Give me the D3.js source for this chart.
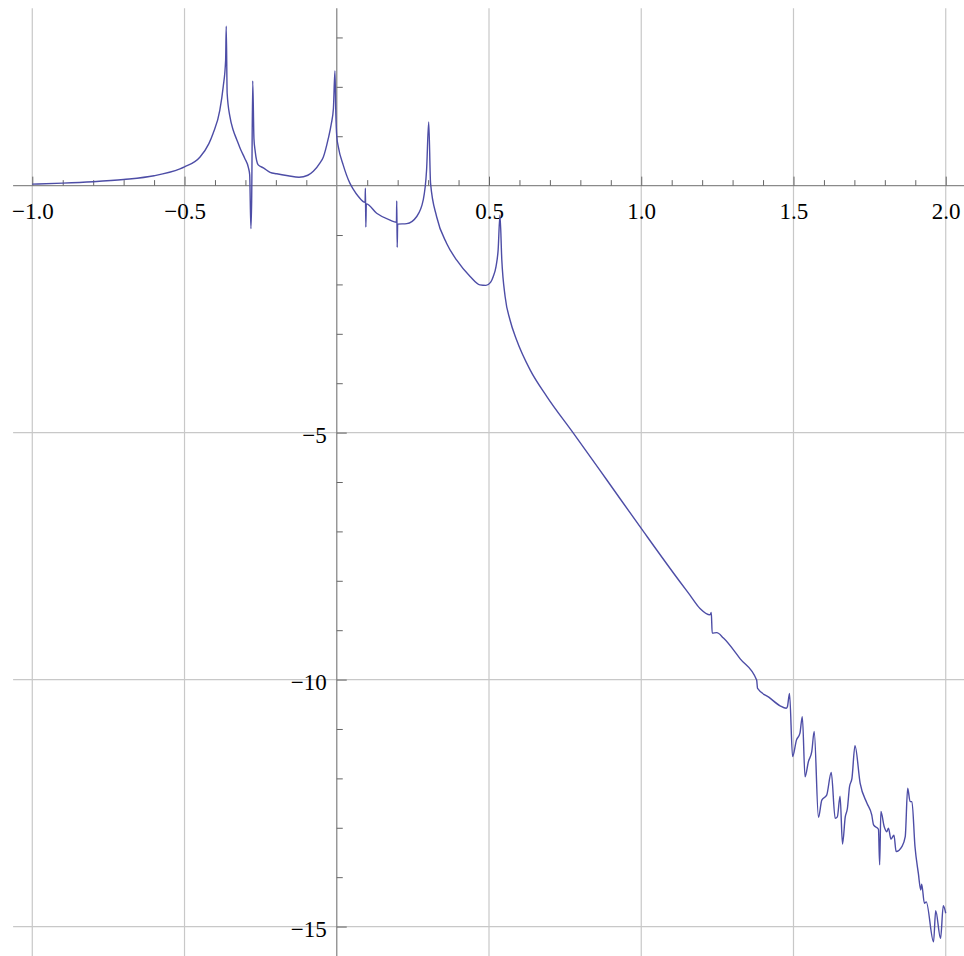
<!DOCTYPE html>
<html>
<head>
<meta charset="utf-8">
<script src="https://cdn.jsdelivr.net/npm/d3@7"></script>
<style>
  html, body { margin: 0; padding: 0; background: #fff; }
  svg { display: block; }
</style>
</head>
<body>
<svg id="chart" width="964" height="956"></svg>
<script>
// ---- data ----
const xValues = [
  -1.0, -0.9, -0.8, -0.7, -0.6, -0.515, -0.5, -0.449, -0.42, -0.406, -0.384, -0.373,
  -0.365, -0.363, -0.360, -0.351, -0.34, -0.329, -0.315, -0.302, -0.29, -0.286,
  -0.282, -0.2795, -0.276, -0.272, -0.268, -0.258, -0.241, -0.219, -0.197, -0.16,
  -0.124, -0.095, -0.077, -0.055, -0.044, -0.028, -0.018, -0.011, -0.006, -0.003,
  0.0, 0.005, 0.021, 0.043, 0.054, 0.071, 0.093, 0.094, 0.0955, 0.097, 0.131, 0.175,
  0.196, 0.197, 0.1985, 0.2, 0.23, 0.262, 0.284, 0.295, 0.302, 0.308, 0.328, 0.361,
  0.394, 0.438, 0.470, 0.49, 0.505, 0.514, 0.523, 0.530, 0.536, 0.542, 0.553, 0.569,
  0.591, 0.635, 0.690, 0.777, 0.887, 1.0, 1.127, 1.16, 1.193, 1.226, 1.230, 1.233,
  1.248, 1.270, 1.325, 1.379, 1.382, 1.42, 1.456, 1.476, 1.480, 1.487, 1.497, 1.510, 1.521, 1.529,
  1.538, 1.549, 1.560, 1.568, 1.582, 1.593, 1.609, 1.624, 1.637, 1.644, 1.653, 1.661,
  1.670, 1.677, 1.684, 1.692, 1.702, 1.719, 1.741, 1.757, 1.763, 1.779, 1.783, 1.787,
  1.798, 1.806, 1.812, 1.820, 1.830, 1.837, 1.856, 1.867, 1.875, 1.883, 1.889, 1.899,
  1.910, 1.918, 1.921, 1.930, 1.936, 1.960, 1.967, 1.983, 1.992, 2.0
];
const yValues = [
  0.03, 0.05, 0.08, 0.125, 0.20, 0.34, 0.38, 0.58, 0.85, 1.06, 1.53, 2.00,
  2.54, 3.23, 1.87, 1.40, 1.12, 0.94, 0.72, 0.55, 0.36, 0.22,
  -0.87, -0.3, 2.12, 0.95, 0.70, 0.42, 0.36, 0.27, 0.24, 0.20,
  0.17, 0.21, 0.29, 0.46, 0.58, 0.95, 1.25, 1.56, 2.32, 1.45,
  1.0, 0.79, 0.42, 0.05, -0.07, -0.22, -0.34, -0.05, -0.84, -0.37, -0.56, -0.70,
  -0.74, -0.31, -1.25, -0.78, -0.77, -0.63, -0.29, 0.32, 1.29, 0.05, -0.63, -1.17,
  -1.51, -1.84, -2.01, -2.02, -1.96, -1.84, -1.64, -1.30, -0.60, -1.50, -2.25, -2.72,
  -3.13, -3.73, -4.27, -5.01, -5.96, -6.94, -8.02, -8.29, -8.56, -8.69, -8.64, -9.06,
  -9.05, -9.16, -9.58, -10.01, -10.18, -10.36, -10.53, -10.58, -10.55, -10.28, -11.56, -11.22, -11.09, -10.75,
  -11.97, -11.66, -11.46, -11.05, -12.79, -12.44, -12.34, -11.88, -12.81, -12.78, -12.36, -13.33,
  -12.78, -12.61, -12.17, -12.00, -11.34, -12.10, -12.50, -12.74, -12.94, -13.03, -13.75, -12.67,
  -12.98, -13.08, -13.01, -13.23, -13.15, -13.48, -13.38, -13.18, -12.20, -12.47, -12.47, -13.38,
  -13.92, -14.26, -14.14, -14.53, -14.50, -15.31, -14.68, -15.24, -14.58, -14.73
];
const xMajorTicks = [-1.0, -0.5, 0.5, 1.0, 1.5, 2.0];
const xTickLabels = ["\u22121.0", "\u22120.5", "0.5", "1.0", "1.5", "2.0"];
const xMinorTicks = [-0.9, -0.8, -0.7, -0.6, -0.4, -0.3, -0.2, -0.1, 0.1, 0.2, 0.3, 0.4,
  0.6, 0.7, 0.8, 0.9, 1.1, 1.2, 1.3, 1.4, 1.6, 1.7, 1.8, 1.9];
const yMajorTicks = [-5, -10, -15];
const yTickLabels = ["\u22125", "\u221210", "\u221215"];
const yMinorTicks = [3, 2, 1, -1, -2, -3, -4, -6, -7, -8, -9, -11, -12, -13, -14];
const xExtent = [-1.063, 2.06];
const yExtent = [3.59, -15.6];

// ---- drawing ----
const FONT = "'Liberation Serif', 'Times New Roman', Tinos, 'DejaVu Serif', serif";
const svg = d3.select("#chart");
const x = d3.scaleLinear().domain(xExtent).range([13.1, 964]);
const y = d3.scaleLinear().domain(yExtent).range([8.3, 956.2]);

// grid
const grid = svg.append("g").attr("stroke", "#c8c8c8").attr("stroke-width", 1.2);
grid.selectAll("line.v").data(xMajorTicks).join("line")
  .attr("x1", d => x(d)).attr("x2", d => x(d))
  .attr("y1", y(yExtent[0])).attr("y2", y(yExtent[1]));
grid.selectAll("line.h").data(yMajorTicks).join("line")
  .attr("x1", x(xExtent[0])).attr("x2", x(xExtent[1]))
  .attr("y1", d => y(d)).attr("y2", d => y(d));

// axis lines
const axisColor = "#8a8a8a";
svg.append("line").attr("x1", x(xExtent[0])).attr("x2", x(xExtent[1]))
  .attr("y1", y(0)).attr("y2", y(0)).attr("stroke", axisColor).attr("stroke-width", 1.3);
svg.append("line").attr("x1", x(0)).attr("x2", x(0))
  .attr("y1", y(yExtent[0])).attr("y2", y(yExtent[1])).attr("stroke", axisColor).attr("stroke-width", 1.3);

function styleText(g) {
  g.attr("font-family", FONT).attr("font-size", 23);
  g.selectAll(".tick text").attr("font-family", FONT).attr("font-size", 23).attr("fill", "#000");
}

// x axis major ticks + labels
const gx = svg.append("g").attr("transform", `translate(0,${y(0)})`)
  .call(d3.axisBottom(x).tickValues(xMajorTicks)
    .tickFormat((d, i) => xTickLabels[i]).tickSize(-9).tickPadding(17));
gx.select(".domain").remove();
gx.selectAll(".tick line").attr("stroke", "#666");
styleText(gx);
// x minor ticks
const gxm = svg.append("g").attr("transform", `translate(0,${y(0)})`)
  .call(d3.axisBottom(x).tickValues(xMinorTicks).tickFormat("").tickSize(-5.5));
gxm.select(".domain").remove();
gxm.selectAll(".tick line").attr("stroke", "#666");

// y axis major ticks + labels
const gy = svg.append("g").attr("transform", `translate(${x(0)},0)`)
  .call(d3.axisLeft(y).tickValues(yMajorTicks)
    .tickFormat((d, i) => yTickLabels[i]).tickSize(-10).tickPadding(10));
gy.select(".domain").remove();
gy.selectAll(".tick line").attr("stroke", "#666");
styleText(gy);
gy.selectAll(".tick text").attr("dy", "0.42em");
// y minor ticks
const gym = svg.append("g").attr("transform", `translate(${x(0)},0)`)
  .call(d3.axisLeft(y).tickValues(yMinorTicks).tickFormat("").tickSize(-6));
gym.select(".domain").remove();
gym.selectAll(".tick line").attr("stroke", "#666");

// curve
const pts = xValues.map((v, i) => [v, yValues[i]]);
const line = d3.line().x(d => x(d[0])).y(d => y(d[1])).curve(d3.curveMonotoneX);
svg.append("path").datum(pts)
  .attr("fill", "none").attr("stroke", "#4d4da6").attr("stroke-width", 1.4)
  .attr("stroke-linejoin", "round")
  .attr("d", line);
</script>
</body>
</html>
